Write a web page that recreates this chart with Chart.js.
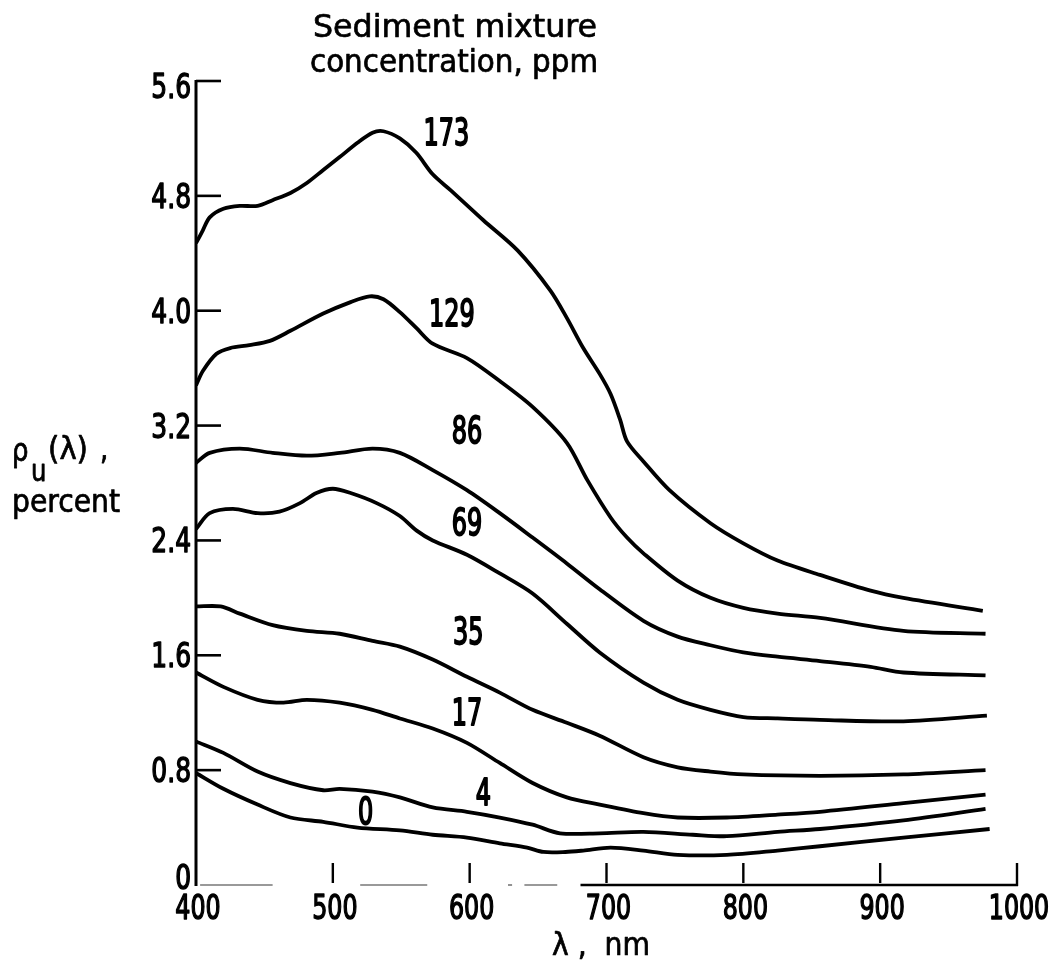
<!DOCTYPE html>
<html><head><meta charset="utf-8">
<script src="https://cdn.jsdelivr.net/npm/chart.js@4"></script>
<style>html,body{margin:0;padding:0;background:#fff;}canvas{display:block;}</style>
</head><body>
<canvas id="c" width="1057" height="966"></canvas>
<script>
const FONT = "'DejaVu Sans Condensed','Liberation Sans Narrow','DejaVu Sans',sans-serif";

// Axis ticks
const xTicks = [400, 500, 600, 700, 800, 900, 1000];
const yTicks = [0, 0.8, 1.6, 2.4, 3.2, 4.0, 4.8, 5.6];

// Series labels (sediment concentration, ppm)
const seriesNames = ['173', '129', '86', '69', '35', '17', '4', '0'];

// Wavelengths (nm) and reflectance (percent)
const wl173 = [400,405,410,420,432,445,456,469,481,493,505,518,529,537,549,561,573,586,610,635,659,671,683,695,703,710,715,727,746,776,800,825,856,893,917,975];
const rho173 = [4.47,4.56,4.65,4.71,4.73,4.73,4.77,4.82,4.89,4.98,5.07,5.17,5.24,5.25,5.20,5.10,4.95,4.84,4.63,4.42,4.14,3.95,3.74,3.56,3.42,3.24,3.09,2.95,2.75,2.52,2.38,2.26,2.16,2.05,2.00,1.91];

const wl129 = [400,405,415,425,439,454,469,493,513,527,537,549,561,573,598,622,646,671,686,703,715,727,752,776,800,825,856,917,977];
const rho129 = [3.48,3.58,3.70,3.74,3.76,3.79,3.86,3.98,4.06,4.10,4.08,3.99,3.88,3.77,3.67,3.51,3.33,3.08,2.82,2.56,2.42,2.31,2.12,2.00,1.93,1.89,1.86,1.77,1.75];

const wl86 = [400,410,432,456,481,505,529,549,573,598,622,646,671,695,727,752,776,800,825,856,893,917,977];
const rho86 = [2.94,3.01,3.04,3.01,2.99,3.01,3.04,3.01,2.89,2.75,2.59,2.42,2.24,2.06,1.84,1.73,1.67,1.62,1.59,1.56,1.52,1.48,1.46];

const wl69 = [400,410,427,445,461,476,488,500,513,532,549,561,573,598,622,646,671,695,727,752,776,800,825,856,917,978];
const rho69 = [2.48,2.59,2.62,2.59,2.60,2.66,2.73,2.76,2.73,2.66,2.57,2.47,2.40,2.30,2.17,2.03,1.82,1.62,1.41,1.29,1.22,1.17,1.16,1.15,1.14,1.18];

const wl35 = [400,418,432,456,481,505,529,549,573,598,622,646,671,695,727,752,776,800,856,917,977];
const rho35 = [1.94,1.94,1.89,1.81,1.77,1.75,1.70,1.66,1.57,1.45,1.34,1.22,1.13,1.04,0.89,0.82,0.79,0.77,0.76,0.77,0.80];

const wl17 = [400,420,445,464,481,505,529,549,573,598,622,646,671,695,727,752,788,825,856,917,977];
const rho17 = [1.48,1.38,1.29,1.27,1.29,1.27,1.22,1.16,1.09,0.99,0.85,0.71,0.61,0.56,0.50,0.47,0.47,0.49,0.51,0.57,0.63];

const wl4 = [400,420,445,469,493,505,529,549,573,598,622,646,666,695,727,763,788,825,856,917,977];
const rho4 = [1.00,0.92,0.79,0.71,0.66,0.67,0.65,0.61,0.54,0.51,0.47,0.42,0.36,0.36,0.37,0.35,0.34,0.37,0.39,0.45,0.53];

const wl0 = [400,420,445,469,493,518,549,573,598,622,642,654,670,683,703,727,752,788,825,856,917,980];
const rho0 = [0.78,0.67,0.56,0.47,0.44,0.40,0.38,0.35,0.33,0.29,0.26,0.23,0.23,0.24,0.26,0.24,0.21,0.21,0.24,0.27,0.33,0.39];

// Where each curve's label sits (data coordinates)
const labelWl = [583, 587, 598, 598, 599, 598, 610, 524];
const labelRho = [5.25, 3.99, 3.17, 2.53, 1.77, 1.21, 0.65, 0.52];

const wls = [wl173, wl129, wl86, wl69, wl35, wl17, wl4, wl0];
const rhos = [rho173, rho129, rho86, rho69, rho35, rho17, rho4, rho0];

const datasets = seriesNames.map((name, k) => ({
  label: name + ' ppm',
  data: wls[k].map((x, i) => ({ x: x, y: rhos[k][i] })),
  borderColor: '#000',
  borderWidth: 3.8,
  pointRadius: 0,
  fill: false,
  tension: 0.3,
  borderCapStyle: 'butt',
  borderJoinStyle: 'round'
}));

// draw text squeezed horizontally by factor sx, slightly thickened
function txt(ctx, text, x, y, size, sx, align, thick) {
  ctx.save();
  ctx.font = size + 'px ' + FONT;
  ctx.textAlign = align || 'left';
  ctx.textBaseline = 'alphabetic';
  ctx.fillStyle = '#000';
  ctx.strokeStyle = '#000';
  ctx.lineJoin = 'round';
  ctx.translate(x, y);
  ctx.scale(sx, 1);
  ctx.fillText(text, 0, 0);
  ctx.lineWidth = (thick === undefined ? 1.0 : thick) / sx;
  if (ctx.lineWidth > 0) ctx.strokeText(text, 0, 0);
  ctx.restore();
}
// draw text fitted to a given width
function txtFit(ctx, text, x, y, size, width, thick) {
  ctx.save();
  ctx.font = size + 'px ' + FONT;
  const w = ctx.measureText(text).width;
  ctx.restore();
  txt(ctx, text, x, y, size, width / w, 'left', thick);
}

const decor = {
  id: 'decor',
  afterDraw(chart) {
    const ctx = chart.ctx;
    const xs = chart.scales.x, ys = chart.scales.y;
    const x0 = xs.getPixelForValue(400);
    const yb = ys.getPixelForValue(0);
    const yt = ys.getPixelForValue(5.6);
    ctx.save();
    ctx.strokeStyle = '#000';
    ctx.fillStyle = '#000';
    ctx.lineCap = 'butt';
    // y axis
    ctx.lineWidth = 3;
    ctx.beginPath();
    ctx.moveTo(x0, yt - 1);
    ctx.lineTo(x0, yb + 1);
    ctx.stroke();
    // y ticks (inward)
    ctx.lineWidth = 2.6;
    yTicks.forEach(v => {
      if (v === 0) return;
      const y = ys.getPixelForValue(v);
      ctx.beginPath();
      ctx.moveTo(x0, y);
      ctx.lineTo(x0 + 25, y);
      ctx.stroke();
    });
    // x axis: faint broken part then solid
    const faint = [[403, 456], [520, 569], [628, 631], [640, 664]];
    ctx.strokeStyle = '#777';
    ctx.lineWidth = 1.6;
    faint.forEach(s => {
      ctx.beginPath();
      ctx.moveTo(xs.getPixelForValue(s[0]), yb);
      ctx.lineTo(xs.getPixelForValue(s[1]), yb);
      ctx.stroke();
    });
    ctx.strokeStyle = '#000';
    ctx.lineWidth = 2.6;
    ctx.beginPath();
    ctx.moveTo(xs.getPixelForValue(681), yb);
    ctx.lineTo(xs.getPixelForValue(1000) + 1, yb);
    ctx.stroke();
    // x ticks (upward)
    ctx.lineWidth = 2.4;
    xTicks.forEach(v => {
      if (v === 400) return;
      const x = xs.getPixelForValue(v);
      ctx.beginPath();
      ctx.moveTo(x, yb - 22);
      ctx.lineTo(x, v === 1000 ? yb + 1 : yb - 2);
      ctx.stroke();
    });
    // tick labels
    xTicks.forEach(v => {
      txt(ctx, String(v), xs.getPixelForValue(v) + 2, yb + 34, 33, 0.8, 'center', 1.1);
    });
    yTicks.forEach(v => {
      const lab = v === 0 ? '0' : v.toFixed(1);
      let base = ys.getPixelForValue(v) + 12;
      base = Math.min(base, yb + 4);
      base = Math.max(base, yt + 17);
      txt(ctx, lab, x0 - 5, base, 33, 0.84, 'right', 1.1);
    });
    // curve labels
    seriesNames.forEach((name, k) => {
      const px = xs.getPixelForValue(labelWl[k]);
      const py = ys.getPixelForValue(labelRho[k]);
      txt(ctx, name, px, py + 13.5, 37, 0.72, 'center', 1.3);
    });
    // title
    txtFit(ctx, 'Sediment mixture', 313, 37, 32, 284, 0.7);
    txtFit(ctx, 'concentration, ppm', 310, 72, 32, 288, 0.7);
    // y axis title
    txt(ctx, '\u03C1', 12, 461, 32, 0.9, 'left', 0.7);
    txt(ctx, 'u', 31, 481, 30, 0.9, 'left', 0.7);
    txtFit(ctx, '(\u03BB)', 48, 459, 32, 40, 0.7);
    txt(ctx, ',', 100, 459, 32, 0.9, 'left', 0.7);
    txtFit(ctx, 'percent', 12, 512, 32, 108, 0.7);
    // x axis title
    txtFit(ctx, '\u03BB ,  nm', 552, 955, 32, 98, 0.7);
    ctx.restore();
  }
};

new Chart(document.getElementById('c'), {
  type: 'line',
  data: { datasets: datasets },
  options: {
    responsive: false,
    animation: false,
    events: [],
    layout: { padding: { left: 0, top: 81, right: 40, bottom: 0 } },
    plugins: { legend: { display: false }, tooltip: { enabled: false }, title: { display: false } },
    scales: {
      x: {
        type: 'linear',
        min: 400, max: 1000,
        afterBuildTicks: s => { s.ticks = xTicks.map(v => ({ value: v })); },
        afterFit: s => { s.height = 81; },
        grid: { display: false, drawTicks: false },
        border: { display: false },
        ticks: { display: false }
      },
      y: {
        type: 'linear',
        min: 0, max: 5.6,
        afterBuildTicks: s => { s.ticks = yTicks.map(v => ({ value: v })); },
        afterFit: s => { s.width = 196; },
        grid: { display: false, drawTicks: false },
        border: { display: false },
        ticks: { display: false }
      }
    }
  },
  plugins: [decor]
});
</script>
</body></html>
